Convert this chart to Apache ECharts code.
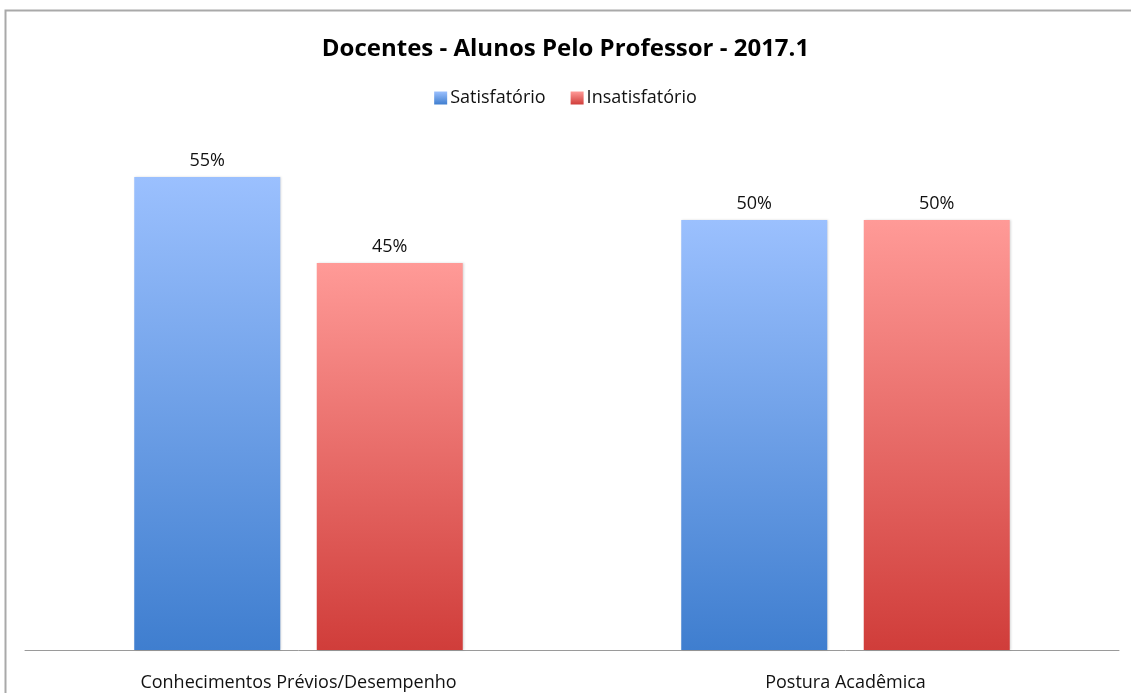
<!DOCTYPE html>
<html><head><meta charset="utf-8">
<script src="https://cdn.jsdelivr.net/npm/echarts@6/dist/echarts.min.js"></script>
<style>html,body{margin:0;padding:0;background:#fff}#c{width:1131px;height:693px}</style>
</head><body><div id="c"></div>
<script>
const categories = ['Conhecimentos Prévios/Desempenho', 'Postura Acadêmica'];
const satisfatorio = [55, 50];
const insatisfatorio = [45, 50];
const seriesNames = ['Satisfatório', 'Insatisfatório'];

const font = "'Open Sans', 'Noto Sans', sans-serif";
function grad(top, bottom) {
  return new echarts.graphic.LinearGradient(0, 0, 0, 1, [
    {offset: 0, color: top}, {offset: 1, color: bottom}
  ]);
}
const blue = grad('#9bc0fe', '#3f7ecf');
const red = grad('#ff9a97', '#d03d3a');

const chart = echarts.init(document.getElementById('c'));
chart.setOption({
  animation: false,
  backgroundColor: '#fff',
  title: {
    text: 'Docentes - Alunos Pelo Professor - 2017.1',
    left: 'center', top: 32,
    textStyle: {fontFamily: font, fontWeight: 'bold', fontSize: 24, color: '#000'}
  },
  legend: {
    data: seriesNames,
    top: 84, left: 'center',
    icon: 'rect', itemWidth: 13, itemHeight: 13, itemGap: 25,
    textStyle: {fontFamily: font, fontSize: 18, color: '#111', padding: [0, 0, 0, -2]}
  },
  graphic: [{
    type: 'rect', shape: {x: 5.5, y: 10.5, width: 1200, height: 800},
    style: {fill: 'none', stroke: '#a9a9a9', lineWidth: 2}, silent: true, z: 100
  }],
  grid: {left: 25, right: 12, top: 134, bottom: 43},
  xAxis: {
    type: 'category', data: categories,
    axisLine: {lineStyle: {color: '#9a9a9a', width: 1}},
    axisTick: {show: false},
    axisLabel: {fontFamily: font, fontSize: 18, color: '#111', margin: 24}
  },
  yAxis: {
    type: 'value', min: 0, max: 60, interval: 10,
    show: false, splitLine: {show: false}
  },
  series: [
    {
      name: seriesNames[0], type: 'bar', data: satisfatorio,
      barWidth: 146, barGap: '25%',
      itemStyle: {color: blue, shadowColor: 'rgba(0,0,0,0.15)', shadowBlur: 2, shadowOffsetX: 1},
      label: {show: true, position: 'top', distance: 7, formatter: '{c}%',
        fontFamily: font, fontSize: 18, color: '#111'}
    },
    {
      name: seriesNames[1], type: 'bar', data: insatisfatorio,
      barWidth: 146,
      itemStyle: {color: red, shadowColor: 'rgba(0,0,0,0.15)', shadowBlur: 2, shadowOffsetX: 1},
      label: {show: true, position: 'top', distance: 7, formatter: '{c}%',
        fontFamily: font, fontSize: 18, color: '#111'}
    }
  ]
});
</script></body></html>
